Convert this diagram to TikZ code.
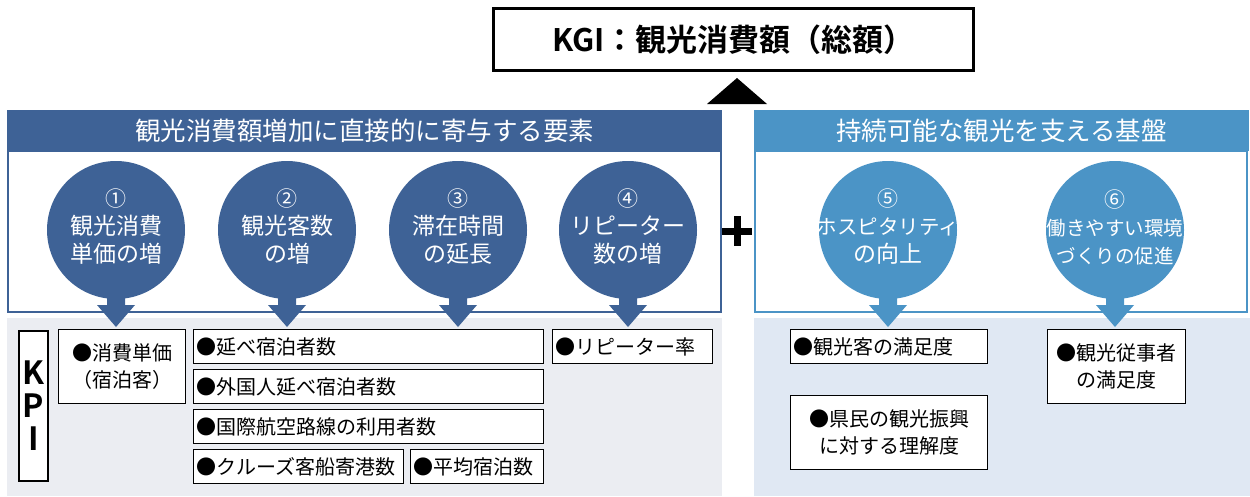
\documentclass[tikz,border=0pt]{standalone}
\usepackage{fontspec}
\setmainfont{Noto Sans CJK JP}[BoldFont={Noto Sans CJK JP Bold}]
\usepackage{tikz}
\definecolor{mainblue}{RGB}{62,98,150}
\definecolor{baseblue}{RGB}{75,148,198}
\definecolor{kpigray}{RGB}{235,237,242}
\definecolor{kpiblue}{RGB}{224,232,243}
\newcommand{\kpisize}{\fontsize{20}{27}\selectfont}

\begin{document}
\begin{tikzpicture}[x=1pt, y=-1pt,
		kgibox/.style={draw=black, line width=3pt, fill=white, minimum width=480pt, minimum height=62pt, inner sep=0pt, font=\fontsize{31}{34}\selectfont\bfseries},
		headband/.style={fill=#1, text=white, minimum height=41pt, inner sep=0pt, font=\fontsize{25.5}{30}\selectfont},
		bubble/.style={circle, fill=#1, minimum size=138pt, inner sep=0pt},
		bubbletext/.style={text=white, align=center, inner sep=0pt},
		kpibox/.style={draw=black, line width=1.2pt, fill=white, anchor=north west, inner xsep=3pt, inner ysep=0pt, minimum height=34pt, align=left, font=\kpisize},
		kpitall/.style={kpibox, minimum height=74pt, align=center}]
			\useasboundingbox (0,0) rectangle (1250,496);
			
			% KGI
			\node[kgibox] (kgi) at (733.5,39.5) {KGI：観光消費額（総額）};
			\fill (707,104) -- (737,78) -- (767,104) -- cycle;
			
			% Headers
			\node[headband=mainblue, minimum width=715pt] (mainhead) at (364.5,130.5) {観光消費額増加に直接的に寄与する要素};
			\node[headband=baseblue, minimum width=495pt] (basehead) at (1001.5,130.5) {持続可能な観光を支える基盤};
			\draw[mainblue, line width=1.5pt] (8,151) rectangle (721,312);
			\draw[baseblue, line width=1.5pt] (755,151) rectangle (1247,312);
			
			% KPI areas
			\fill[kpigray] (7,318) rectangle (722,496);
			\fill[kpiblue] (754,318) rectangle (1250,496);
			
			% Plus
			\draw[line width=7pt] (722,231) -- (752,231) (737,216) -- (737,246);
			
			% Elements
			\foreach \i/\num/\x/\col/\sa/\sb/\la/\lb in {
				1/①/116/mainblue/23/23/観光消費/単価の増,
				2/②/287/mainblue/23/23/観光客数/の増,
				3/③/458/mainblue/23/23/滞在時間/の延長,
				4/④/628/mainblue/23/23/リピーター/数の増,
				5/⑤/888/baseblue/20.5/23/ホスピタリティ/の向上,
				6/⑥/1115/baseblue/19.5/19.5/働きやすい環境/づくりの促進}
			{
				\node[bubble=\col] (c\i) at (\x,230) {};
				\fill[\col] (\x-9,290) -- (\x+9,290) -- (\x+9,305) -- (\x+19,305) -- (\x,327) -- (\x-19,305) -- (\x-9,305) -- cycle;
				\node[bubbletext, font=\fontsize{23}{28}\selectfont] (t\i) at ([yshift=3pt]c\i.center)
					{{\fontsize{21}{28}\selectfont\num}\\{\fontsize{\sa}{28}\selectfont\la}\\{\fontsize{\sb}{28}\selectfont\lb}};
			}
			
			% KPI boxes
			\node[draw=black, line width=2pt, fill=white, minimum width=29pt, minimum height=150pt, inner sep=0pt, align=center, font=\fontsize{32}{33}\selectfont\bfseries] (kpi) at (33.5,406) {K\\P\\I};
			\node[kpitall, minimum width=127pt] (k1) at (58,329) {●消費単価\\（宿泊客）};
			\node[kpibox, text width=344pt] (k2a) at (193,329) {●延べ宿泊者数};
			\node[kpibox, text width=344pt] (k2b) at (193,369) {●外国人延べ宿泊者数};
			\node[kpibox, text width=344pt] (k2c) at (193,409) {●国際航空路線の利用者数};
			\node[kpibox, text width=204pt] (k3a) at (193,449) {●クルーズ客船寄港数};
			\node[kpibox, text width=127pt] (k3b) at (410,449) {●平均宿泊数};
			\node[kpibox, text width=154pt] (k4) at (552,329) {●リピーター率};
			\node[kpibox, text width=191pt] (k5a) at (790,329) {●観光客の満足度};
			\node[kpitall, minimum width=197pt] (k5b) at (790,395) {●県民の観光振興\\に対する理解度};
			\node[kpitall, minimum width=138pt] (k6) at (1047,329) {●観光従事者\\の満足度};
		\end{tikzpicture}
\end{document}
